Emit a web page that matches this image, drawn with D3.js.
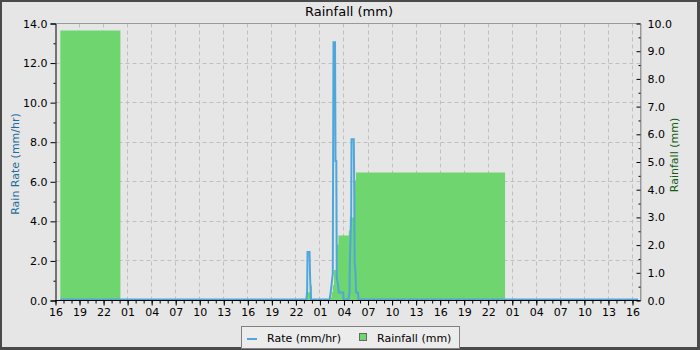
<!DOCTYPE html>
<html>
<head>
<meta charset="utf-8">
<script src="https://cdn.jsdelivr.net/npm/d3@7/dist/d3.min.js"></script>
<style>
  body { margin: 0; }
  svg { display: block; font-family: "DejaVu Sans", sans-serif; }
</style>
</head>
<body>
<div id="chart"></div>
<script>
// hours counted from the first tick (16:00 on day one)
const rateHours = [0.6, 31.3, 31.4, 31.45, 31.7, 31.76, 31.82, 31.88,
  34.2, 34.35, 34.6, 34.69, 34.88, 34.94, 35.04, 35.1, 35.25, 35.35, 35.9, 35.95,
  36.56, 36.69, 36.73, 36.9, 36.94, 37.22, 37.27, 37.33, 37.43, 37.5, 37.75, 37.81, 72.7];
const rateValues = [0, 0, 0.4, 2.4, 2.4, 1.25, 0.6, 0,
  0, 0.4, 1.3, 13.0, 13.0, 7.0, 7.0, 1.1, 0.75, 0.35, 0.35, 0,
  0, 0.35, 1.85, 4.3, 8.1, 8.1, 6.0, 1.85, 1.4, 0.35, 0.35, 0, 0];

// daily running total, each value holds until the next hour mark
const rainHours = [0.6, 8.1, 31.35, 31.75, 32.0,
  34.3, 34.45, 34.6, 34.75, 35.1, 35.3, 36.6, 36.73, 37.3, 37.5, 56.1, 72.7];
const rainValues = [9.75, 0, 0.3, 0.54, 0,
  0.12, 0.3, 0.55, 1.1, 2.02, 2.35, 2.53, 3.0, 4.33, 4.62, 0, 0];

const rateTicks = [0, 2, 4, 6, 8, 10, 12, 14];
const rainTicks = [0, 1, 2, 3, 4, 5, 6, 7, 8, 9, 10];
const hourTicks = d3.range(0, 73, 3);

const W = 700, H = 350;
const m = { left: 55, top: 23, right: 60, bottom: 50 };
const pw = W - m.left - m.right, ph = H - m.top - m.bottom;

const start = new Date(2024, 0, 1, 16, 0);
const at = h => new Date(start.getTime() + h * 3600e3);

const x = d3.scaleTime().domain([at(0), at(73)]).range([0, pw]);
const yRate = d3.scaleLinear().domain([0, 14]).range([ph, 0]);
const yRain = d3.scaleLinear().domain([0, 10]).range([ph, 0]);

const blue = '#4ea6db', green = '#6fd66f';

const svg = d3.select('#chart').append('svg').attr('width', W).attr('height', H);
svg.append('rect').attr('width', W).attr('height', H).attr('fill', '#4a4a4a');
svg.append('rect').attr('x', 2).attr('y', 2).attr('width', 695).attr('height', 345).attr('fill', '#e6e6e6');

svg.append('text').attr('x', 349).attr('y', 16).attr('text-anchor', 'middle')
  .attr('font-size', 13).text('Rainfall (mm)');

const g = svg.append('g').attr('transform', `translate(${m.left + 0.5},${m.top + 0.5})`);

// grid
g.selectAll('.vg').data(hourTicks.slice(1)).enter().append('line')
  .attr('x1', d => Math.round(x(at(d)))).attr('x2', d => Math.round(x(at(d))))
  .attr('y1', 0).attr('y2', ph)
  .attr('stroke', '#c0c0c0').attr('stroke-dasharray', '4,3');
g.selectAll('.hg').data(rateTicks.slice(1, -1)).enter().append('line')
  .attr('x1', 0).attr('x2', pw)
  .attr('y1', d => Math.round(yRate(d))).attr('y2', d => Math.round(yRate(d)))
  .attr('stroke', '#c0c0c0').attr('stroke-dasharray', '4,3');

// rainfall running total
const rainPts = rainHours.map((h, i) => [at(h), rainValues[i]]);
g.append('path').datum(rainPts)
  .attr('d', d3.area().curve(d3.curveStepAfter)
    .x(d => x(d[0])).y0(ph).y1(d => yRain(d[1])))
  .attr('fill', green);

// rain rate
const ratePts = rateHours.map((h, i) => [at(h), rateValues[i]]);
g.append('path').datum(ratePts)
  .attr('d', d3.line().x(d => x(d[0])).y(d => yRate(d[1]) - 1))
  .attr('fill', 'none').attr('stroke', blue).attr('stroke-width', 2);

// frame
g.append('path').attr('d', `M0,0H${pw}V${ph}`).attr('fill', 'none').attr('stroke', '#999');

// left axis
const left = g.append('g').call(d3.axisLeft(yRate).tickValues(rateTicks)
  .tickFormat(d3.format('.1f')).tickSize(5).tickPadding(3));
left.append('g').call(d3.axisLeft(yRate).tickValues(d3.range(1, 14, 2)).tickSize(2).tickFormat(''))
  .select('.domain').remove();

// right axis, ticks point inward
const right = g.append('g').attr('transform', `translate(${pw},0)`)
  .call(d3.axisRight(yRain).tickValues(rainTicks).tickFormat(d3.format('.1f')).tickSize(-4).tickPadding(7));
right.select('.domain').attr('stroke', '#999');
right.append('g').call(d3.axisRight(yRain).tickValues(d3.range(0.5, 10, 1)).tickSize(-2).tickFormat(''))
  .select('.domain').remove();

// bottom axis
const bottom = g.append('g').attr('transform', `translate(0,${ph})`)
  .call(d3.axisBottom(x).tickValues(hourTicks.map(at)).tickFormat(d3.timeFormat('%H'))
    .tickSize(5).tickPadding(3));
bottom.select('.domain').attr('d', `M0,0H${pw}`);
bottom.append('g').call(d3.axisBottom(x).tickValues(d3.range(0, 73).map(at)).tickSize(3).tickFormat(''))
  .select('.domain').remove();

svg.selectAll('.tick text').attr('font-size', 11).attr('font-family', '"DejaVu Sans", sans-serif').attr('fill', '#000');

// axis titles
svg.append('text').attr('transform', 'translate(19,164) rotate(-90)').attr('text-anchor', 'middle')
  .attr('font-size', 11).attr('fill', '#1f6c9c').text('Rain Rate (mm/hr)');
svg.append('text').attr('transform', 'translate(678,155) rotate(-90)').attr('text-anchor', 'middle')
  .attr('font-size', 11).attr('fill', '#0f5d0f').text('Rainfall (mm)');

// legend
const lg = svg.append('g');
lg.append('rect').attr('x', 241.5).attr('y', 326.5).attr('width', 218).attr('height', 22)
  .attr('fill', '#ececec').attr('stroke', '#808080');
lg.append('line').attr('x1', 247).attr('x2', 257).attr('y1', 339).attr('y2', 339)
  .attr('stroke', blue).attr('stroke-width', 2);
lg.append('text').attr('x', 267).attr('y', 342).attr('font-size', 11).text('Rate (mm/hr)');
lg.append('rect').attr('x', 359.5).attr('y', 333.5).attr('width', 7).attr('height', 7)
  .attr('fill', green).attr('stroke', '#666');
lg.append('text').attr('x', 377).attr('y', 342).attr('font-size', 11).text('Rainfall (mm)');
</script>
</body>
</html>
